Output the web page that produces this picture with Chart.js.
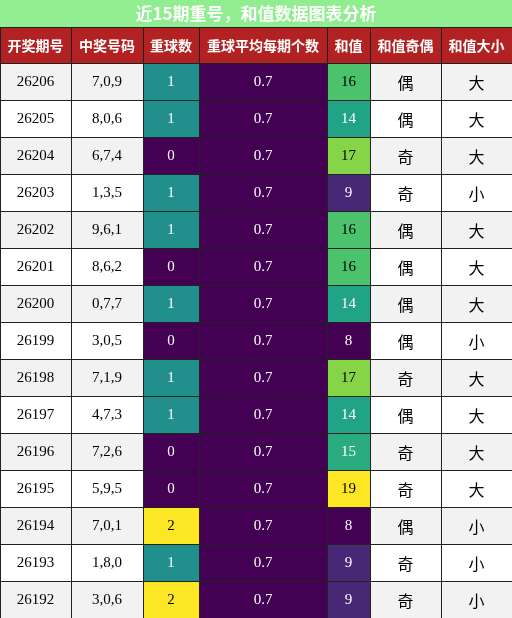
<!DOCTYPE html>
<html><head><meta charset="utf-8">
<script src="https://cdn.jsdelivr.net/npm/chart.js@4"></script>
<style>html,body{margin:0;padding:0;background:#fff}#w{width:512px;height:618px}</style>
</head><body><div id="w"><canvas id="c"></canvas></div>
<script>
const title = '近15期重号，和值数据图表分析';
const headers = ['开奖期号','中奖号码','重球数','重球平均每期个数','和值','和值奇偶','和值大小'];
const issues = ['26206','26205','26204','26203','26202','26201','26200','26199','26198','26197','26196','26195','26194','26193','26192'];
const numbers = ['7,0,9','8,0,6','6,7,4','1,3,5','9,6,1','8,6,2','0,7,7','3,0,5','7,1,9','4,7,3','7,2,6','5,9,5','7,0,1','1,8,0','3,0,6'];
const repeats = [1,1,0,1,1,0,1,0,1,1,0,0,2,1,2];
const avgRepeat = [0.7,0.7,0.7,0.7,0.7,0.7,0.7,0.7,0.7,0.7,0.7,0.7,0.7,0.7,0.7];
const sums = [16,14,17,9,16,16,14,8,17,14,15,19,8,9,9];
const parity = ['偶','偶','奇','奇','偶','偶','偶','偶','奇','偶','奇','奇','偶','奇','奇'];
const size = ['大','大','大','小','大','大','大','小','大','大','大','大','小','小','小'];

// layout (pixel units of the hidden linear scales)
const colEdges = [0,71,143,199,327,370,441,512];
const titleH = 27, headH = 36, rowH = 37;

const repColor = {0:['#440154','#fff'],1:['#21908C','#fff'],2:['#FDE725','#000']};
const sumColor = {8:['#440154','#fff'],9:['#472877','#fff'],14:['#21A386','#fff'],15:['#2AAC80','#fff'],16:['#4CC26C','#000'],17:['#86D549','#000'],19:['#FDE725','#000']};

const tablePlugin = {
  id:'table',
  afterDraw(chart){
    const ctx = chart.ctx, X = chart.scales.x, Y = chart.scales.y;
    const px = v => X.getPixelForValue(v), py = v => Y.getPixelForValue(v);
    const cell = (x0,x1,y0,y1,bg,txt,fg,font)=>{
      const a=px(x0),b=px(x1),c=py(y0),d=py(y1);
      ctx.fillStyle=bg; ctx.fillRect(a,c,b-a,d-c);
      ctx.strokeStyle='#222'; ctx.lineWidth=1; ctx.strokeRect(a+0.5,c+0.5,b-a,d-c);
      if(txt!==undefined){ctx.fillStyle=fg;ctx.font=font;ctx.textAlign='center';ctx.textBaseline='middle';ctx.fillText(txt,(a+b)/2,(c+d)/2+1);}
    };
    ctx.save();
    // title
    const a=px(0),b=px(512);
    ctx.fillStyle='#90EE90'; ctx.fillRect(a,py(0),b-a,py(titleH)-py(0));
    ctx.fillStyle='#fff'; ctx.font='bold 17px "Noto Sans CJK SC"'; ctx.textAlign='center'; ctx.textBaseline='middle';
    ctx.fillText(title,(a+b)/2,py(titleH/2));
    headers.forEach((h,i)=>cell(colEdges[i],colEdges[i+1],titleH,titleH+headH,'#B22222',h,'#fff','bold 14px "Noto Sans CJK SC"'));
    const serif='15px "Liberation Serif"', cjk='16px "Noto Sans CJK SC"';
    issues.forEach((iss,r)=>{
      const y0=titleH+headH+r*rowH, y1=y0+rowH;
      const bg = r%2===0?'#F2F2F2':'#FFFFFF';
      cell(colEdges[0],colEdges[1],y0,y1,bg,iss,'#000',serif);
      cell(colEdges[1],colEdges[2],y0,y1,bg,numbers[r],'#000',serif);
      const rc=repColor[repeats[r]];
      cell(colEdges[2],colEdges[3],y0,y1,rc[0],String(repeats[r]),rc[1],serif);
      cell(colEdges[3],colEdges[4],y0,y1,'#440154',avgRepeat[r].toFixed(1),'#fff',serif);
      const sc=sumColor[sums[r]];
      cell(colEdges[4],colEdges[5],y0,y1,sc[0],String(sums[r]),sc[1],serif);
      cell(colEdges[5],colEdges[6],y0,y1,bg,parity[r],'#000',cjk);
      cell(colEdges[6],colEdges[7],y0,y1,bg,size[r],'#000',cjk);
    });
    ctx.restore();
  }
};

new Chart(document.getElementById('c'),{
  type:'scatter',
  data:{datasets:[{data:[]}]},
  options:{
    responsive:true, maintainAspectRatio:false, animation:false,
    layout:{padding:0},
    plugins:{legend:{display:false},tooltip:{enabled:false}},
    scales:{
      x:{type:'linear',min:0,max:512,display:false},
      y:{type:'linear',min:0,max:618,reverse:true,display:false}
    }
  },
  plugins:[tablePlugin]
});
</script></body></html>
